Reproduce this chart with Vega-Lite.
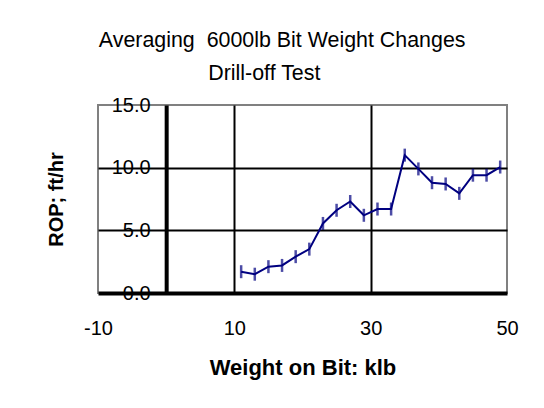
{
  "$schema": "https://vega.github.io/schema/vega-lite/v6.json",
  "width": 409,
  "height": 188,
  "autosize": {"type": "none"},
  "padding": {"left": 98, "top": 105, "right": 37, "bottom": 115},
  "background": "white",
  "title": {
    "text": ["Averaging\u00a0 6000lb Bit Weight Changes", "Drill-off Test\u00a0\u00a0\u00a0\u00a0\u00a0\u00a0\u200b"],
    "font": "Liberation Sans",
    "fontSize": 21.4,
    "fontWeight": "normal",
    "color": "black",
    "lineHeight": 33,
    "anchor": "middle",
    "frame": "bounds",
    "offset": 11
  },
  "data": {
    "values": [
      {"wob": 11, "rop": 1.7},
      {"wob": 13, "rop": 1.5},
      {"wob": 15, "rop": 2.1},
      {"wob": 17, "rop": 2.2},
      {"wob": 19, "rop": 2.9},
      {"wob": 21, "rop": 3.5},
      {"wob": 23, "rop": 5.55},
      {"wob": 25, "rop": 6.6},
      {"wob": 27, "rop": 7.3},
      {"wob": 29, "rop": 6.2},
      {"wob": 31, "rop": 6.7},
      {"wob": 33, "rop": 6.7},
      {"wob": 35, "rop": 11.0},
      {"wob": 37, "rop": 9.9},
      {"wob": 39, "rop": 8.8},
      {"wob": 41, "rop": 8.7},
      {"wob": 43, "rop": 7.95},
      {"wob": 45, "rop": 9.4},
      {"wob": 47, "rop": 9.4},
      {"wob": 49, "rop": 10.05}
    ]
  },
  "encoding": {
    "x": {
      "field": "wob",
      "type": "quantitative",
      "scale": {"domain": [-10, 50], "nice": false, "zero": false},
      "axis": {
        "values": [-10, 10, 30, 50],
        "labelExpr": "datum.value < 0 ? '-' + abs(datum.value) : '' + datum.value",
        "title": "Weight on Bit: klb",
        "grid": true,
        "gridColor": "black",
        "gridWidth": 2,
        "gridOpacity": {"condition": {"test": "datum.value == -10 || datum.value == 50", "value": 0}, "value": 1},
        "domainColor": "black",
        "domainWidth": 4,
        "ticks": false,
        "labelPadding": 25,
        "labelFont": "Liberation Sans",
        "labelFontSize": 20,
        "labelColor": "black",
        "labelFlush": false,
        "labelOverlap": false,
        "titleFont": "Liberation Sans",
        "titleFontSize": 22,
        "titleFontWeight": "bold",
        "titleColor": "black",
        "titleY": 81,
        "titleBaseline": "alphabetic"
      }
    },
    "y": {
      "field": "rop",
      "type": "quantitative",
      "scale": {"domain": [0, 15], "nice": false},
      "axis": {
        "values": [0, 5, 10, 15],
        "format": ".1f",
        "offset": -68.17,
        "title": "ROP; ft/hr",
        "grid": true,
        "gridColor": "black",
        "gridWidth": 2,
        "gridOpacity": {"condition": {"test": "datum.value == 0 || datum.value == 15", "value": 0}, "value": 1},
        "domainColor": "black",
        "domainWidth": 4,
        "ticks": false,
        "labelPadding": 16,
        "labelFont": "Liberation Sans",
        "labelFontSize": 20,
        "labelColor": "black",
        "labelFlush": false,
        "labelOverlap": false,
        "titleFont": "Liberation Sans",
        "titleFontSize": 20,
        "titleFontWeight": "bold",
        "titleColor": "black",
        "titleX": -104,
        "titleBaseline": "alphabetic"
      }
    }
  },
  "layer": [
    {"mark": {"type": "line", "color": "#000080", "strokeWidth": 2}},
    {"mark": {"type": "tick", "orient": "vertical", "color": "#000080", "size": 13, "thickness": 2.5}}
  ],
  "config": {
    "view": {"stroke": "#808080", "strokeWidth": 2},
    "font": "Liberation Sans"
  }
}
